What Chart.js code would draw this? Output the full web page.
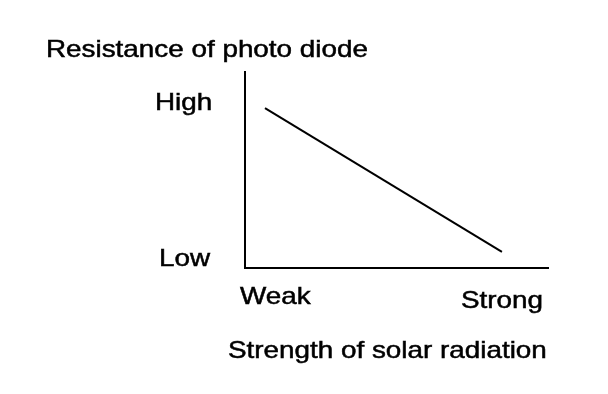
<!DOCTYPE html>
<html>
<head>
<meta charset="utf-8">
<script src="https://cdn.jsdelivr.net/npm/chart.js@4.4.1/dist/chart.umd.min.js"></script>
<style>
html,body{margin:0;padding:0;background:#fff;}
#wrap{width:608px;height:394px;}
</style>
</head>
<body>
<div id="wrap"><canvas id="c" width="608" height="394"></canvas></div>
<script>
// Data
const strength = [6.6, 84.8];        // x: strength of solar radiation (0 = weak, 100 = strong)
const resistance = [81.6, 8.2];      // y: resistance of photo diode (0 = low, 100 = high)
const xTickLabels = ["Weak", "Strong"];
const yTickLabels = ["Low", "High"];
const yTitle = "Resistance of photo diode";
const xTitle = "Strength of solar radiation";

const FONT = '"Liberation Sans", Arial, Helvetica, sans-serif';
const SX = 1.16;

function stretchedText(ctx, txt, x, y, size) {
  ctx.save();
  ctx.font = size + 'px ' + FONT;
  ctx.fillStyle = '#000';
  ctx.strokeStyle = '#000';
  ctx.lineWidth = 0.5;
  ctx.textBaseline = 'alphabetic';
  ctx.textAlign = 'left';
  ctx.translate(x, y);
  ctx.scale(SX, 1);
  ctx.fillText(txt, 0, 0);
  ctx.strokeText(txt, 0, 0);
  ctx.restore();
}

const labelPlugin = {
  id: 'labels',
  afterDraw(chart) {
    const ctx = chart.ctx;
    const a = chart.chartArea;
    const fs = 24;
    stretchedText(ctx, yTitle, a.left - 199, a.top - 15, fs);
    stretchedText(ctx, yTickLabels[1], a.left - 90, a.top + 38, fs);
    stretchedText(ctx, yTickLabels[0], a.left - 86, a.bottom - 2, fs);
    stretchedText(ctx, xTickLabels[0], a.left - 5, a.bottom + 36, fs);
    stretchedText(ctx, xTickLabels[1], a.right - 87, a.bottom + 40, fs);
    stretchedText(ctx, xTitle, a.left - 17, a.bottom + 90, fs);
  }
};

new Chart(document.getElementById('c'), {
  type: 'line',
  data: {
    datasets: [{
      data: strength.map((v, i) => ({x: v, y: resistance[i]})),
      borderColor: '#000',
      borderWidth: 2,
      pointRadius: 0,
      tension: 0,
      fill: false
    }]
  },
  options: {
    responsive: false,
    animation: false,
    devicePixelRatio: 1,
    layout: {padding: {left: 245, right: 60, top: 72, bottom: 126}},
    plugins: {legend: {display: false}, tooltip: {enabled: false}, title: {display: false}},
    scales: {
      x: {
        type: 'linear', min: 0, max: 100,
        grid: {display: false, drawTicks: false},
        ticks: {display: false},
        border: {display: true, color: '#000', width: 2}
      },
      y: {
        type: 'linear', min: 0, max: 100,
        grid: {display: false, drawTicks: false},
        ticks: {display: false},
        border: {display: true, color: '#000', width: 2}
      }
    }
  },
  plugins: [labelPlugin]
});
</script>
</body>
</html>
